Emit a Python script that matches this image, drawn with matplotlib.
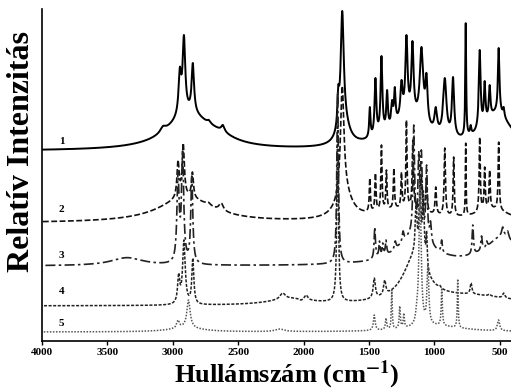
import numpy as np
import matplotlib.pyplot as plt

plt.rcParams['font.family'] = ['Liberation Serif', 'DejaVu Serif']
plt.rcParams['mathtext.fontset'] = 'stix'

# hullámszám tengely
wn = np.linspace(400, 4000, 9000)

# --- 1. spektrum (folytonos) ---
base1 = 190
broad1_c = [2880, 2650, 1200, 520, 1690]
broad1_a = [35, 6, 30, 35, 20]
broad1_w = [200, 150, 180, 130, 50]
peak1_c = [3075, 2946, 2915, 2847, 2724, 2617, 1735, 1705, 1494, 1451, 1405, 1362,
           1324, 1303, 1252, 1214, 1168, 1099, 1061, 990, 921, 858, 761, 723, 654, 616,
           578, 509, 471]
peak1_h = [215, 274, 306, 278, 221, 216, 256, 330, 234, 263, 285, 251, 241, 254, 261,
           306, 300, 294, 268, 234, 263, 264, 318, 216, 291, 260, 256, 293, 234]
peak1_w = [25, 12, 12, 11, 15, 15, 8, 14, 6, 8, 8, 7, 8, 7, 10, 10, 10, 16, 10, 12, 15,
           10, 4, 6, 8, 7, 7, 7, 7]

# --- 2. spektrum (szaggatott) ---
base2 = 118
broad2_c = [2900, 1250, 550, 1690]
broad2_a = [25, 12, 12, 25]
broad2_w = [250, 250, 150, 70]
peak2_c = [2960, 2920, 2850, 2730, 2630, 1705, 1494, 1451, 1405, 1367, 1310, 1252, 1214,
           1165, 1100, 1061, 990, 921, 853, 761, 654, 616, 578, 509]
peak2_h = [181, 198, 169, 139, 138, 255, 163, 168, 196, 171, 173, 169, 221, 201, 165, 164,
           154, 193, 184, 198, 204, 174, 171, 199]
peak2_w = [10, 10, 9, 20, 20, 16, 5, 5, 5, 5, 5, 5, 5, 6, 8, 6, 6, 6, 5, 3, 5, 5, 5, 5]

# --- 3. spektrum (pont-vonal) ---
base3 = 75
broad3_c = [3350, 1150, 480]
broad3_a = [8, 30, 28]
broad3_w = [150, 150, 150]
peak3_c = [2960, 2925, 2855, 1740, 1456, 1420, 1395, 1370, 1300, 1240, 1158, 1120, 1100,
           1060, 1030, 945, 707, 640, 600, 478, 440]
peak3_h = [170, 190, 165, 250, 114, 100, 98, 101, 100, 110, 216, 190, 191, 176, 120, 101,
           116, 105, 100, 114, 110]
peak3_w = [10, 10, 9, 7, 6, 6, 6, 6, 8, 8, 7, 7, 8, 7, 8, 6, 6, 6, 6, 10, 10]

# --- 4. spektrum (sűrű szaggatott) ---
base4 = 35
broad4_c = [2100, 1150, 700]
broad4_a = [6, 45, 9]
broad4_w = [200, 110, 400]
peak4_c = [2955, 2915, 2847, 2160, 2020, 1980, 1740, 1460, 1380, 1140, 1110, 1085, 1060,
           960, 720, 580, 470]
peak4_h = [68, 101, 83, 48, 41, 46, 216, 63, 61, 140, 160, 150, 110, 56, 58, 47, 48]
peak4_w = [10, 12, 9, 25, 15, 15, 7, 10, 10, 8, 8, 8, 6, 10, 8, 10, 10]

# --- 5. spektrum (pontozott) ---
base5 = 9
broad5_c = [2900, 1000]
broad5_a = [4, 6]
broad5_w = [150, 250]
peak5_c = [2960, 2880, 2180, 1460, 1370, 1326, 1265, 1234, 1135, 1110, 1050, 944, 822, 510]
peak5_h = [21, 41, 12, 26, 23, 51, 35, 28, 41, 154, 77, 53, 62, 21]
peak5_w = [12, 15, 40, 8, 6, 4, 5, 5, 8, 10, 8, 5, 4, 10]

labels = ['1', '2', '3', '4', '5']
label_y = [200, 132, 86, 49, 18]


def lorentz(x, c, w):
    return 1.0 / (1.0 + ((x - c) / w) ** 2)


def spectrum(base, bc, ba, bw, pc, ph, pw):
    bg = base + sum(a * lorentz(wn, c, w) for c, a, w in zip(bc, ba, bw))
    bg_at = base + np.array([sum(a * lorentz(p, c, w) for c, a, w in zip(bc, ba, bw)) for p in pc])
    M = np.array([[lorentz(ci, cj, wj) for cj, wj in zip(pc, pw)] for ci in pc])
    amps = np.linalg.solve(M, np.array(ph) - bg_at)
    return bg + sum(a * lorentz(wn, c, w) for c, a, w in zip(pc, amps, pw))


spektrumok = [
    spectrum(base1, broad1_c, broad1_a, broad1_w, peak1_c, peak1_h, peak1_w),
    spectrum(base2, broad2_c, broad2_a, broad2_w, peak2_c, peak2_h, peak2_w),
    spectrum(base3, broad3_c, broad3_a, broad3_w, peak3_c, peak3_h, peak3_w),
    spectrum(base4, broad4_c, broad4_a, broad4_w, peak4_c, peak4_h, peak4_w),
    spectrum(base5, broad5_c, broad5_a, broad5_w, peak5_c, peak5_h, peak5_w),
]
stilusok = ['-', (0, (3.5, 1.5)), (0, (6, 2, 1.5, 2)), (0, (2, 1)), (0, (1, 1))]
szinek = ['black', '#111111', '#222222', '#222222', '#555555']
vastag = [1.4, 1.2, 1.2, 1.1, 1.1]

fig = plt.figure(figsize=(5.11, 3.9), dpi=100)
ax = fig.add_axes([42 / 511, 49 / 390, 1 - 42 / 511, 332 / 390])

for y, ls, c, lw in zip(spektrumok, stilusok, szinek, vastag):
    ax.plot(wn, y, linestyle=ls, color=c, lw=lw)

for lab, ly in zip(labels, label_y):
    ax.text(3850, ly, lab, fontsize=8, fontweight='bold', ha='center', va='center')

ax.set_xlim(4000, 415)
ax.set_ylim(0, 332)
ax.set_xticks([4000, 3500, 3000, 2500, 2000, 1500, 1000, 500])
ax.set_yticks([])
ax.tick_params(axis='x', direction='out', length=3, width=1, pad=2, labelsize=8)
for t in ax.get_xticklabels():
    t.set_fontweight('bold')
ax.spines['top'].set_visible(False)
ax.spines['right'].set_visible(False)
ax.spines['left'].set_linewidth(1.2)
ax.spines['bottom'].set_linewidth(1.2)

fig.text(22 / 511, 1 - 152 / 390, 'Relatív Intenzitás', rotation=90, fontsize=23,
         fontweight='bold', ha='center', va='center')
fig.text(287 / 511, 1 - 375 / 390, r'Hullámszám (cm$^{\mathbf{-1}}$)', fontsize=19,
         fontweight='bold', ha='center', va='center')

fig.savefig('out.png', dpi=100)
